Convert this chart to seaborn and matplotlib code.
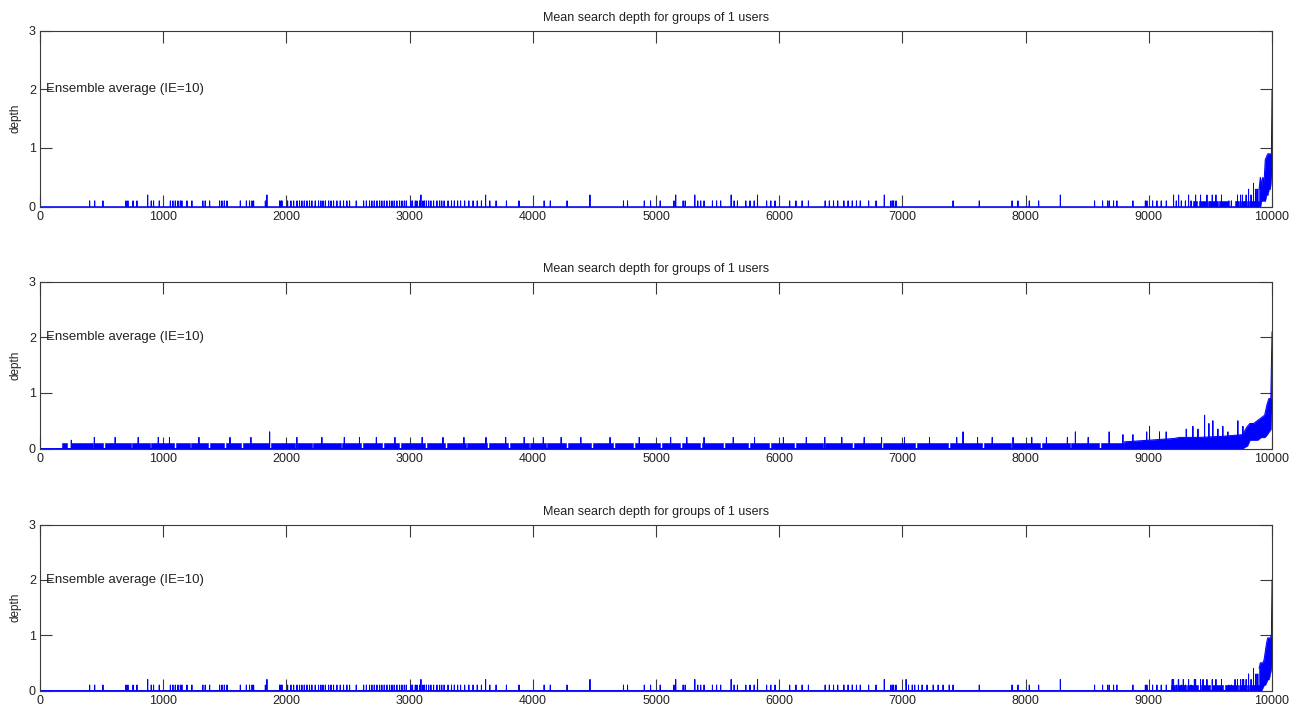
import numpy as np
import pandas as pd
import matplotlib
matplotlib.use('Agg')
import matplotlib.pyplot as plt
import seaborn as sns

sns.set_style('white')
plt.rcParams['font.family'] = ['Liberation Sans', 'DejaVu Sans']

# Configuration
N_STEPS = 10000
TITLE = 'Mean search depth for groups of 1 users'
NOTE = 'Ensemble average (IE=10)'
Y_LABEL = 'depth'
X_TICKS = [0, 1000, 2000, 3000, 4000, 5000, 6000, 7000, 8000, 9000, 10000]
Y_TICKS = [0, 1, 2, 3]
BLUE = '#0000ff'
AXIS_GREY = '#3a3a3a'

# ---- panel 1: isolated spikes (step, depth) ----
spikes1_x = [403, 444, 511, 698, 714, 755, 787, 874, 903, 922, 968, 1058, 1079, 1098, 1120,
             1139, 1152, 1193, 1233, 1322, 1341, 1377, 1458, 1477, 1496, 1518, 1626, 1675,
             1701, 1721, 1734, 1829, 1842, 1945, 1956, 1964,
             2010, 2037, 2059, 2086, 2107, 2126, 2145, 2167, 2188, 2207, 2234, 2261, 2280,
             2297, 2316, 2343, 2362, 2383, 2410, 2437, 2464, 2491, 2513, 2567, 2627, 2649,
             2675, 2694, 2713, 2735, 2757, 2775, 2794, 2816, 2838, 2857, 2875, 2897, 2919,
             2938, 2957, 2973, 3011, 3024, 3046, 3060, 3081, 3092, 3108, 3120, 3136, 3155,
             3173, 3195, 3222, 3244, 3261, 3280, 3312, 3340, 3363, 3390, 3414, 3447, 3481,
             3515, 3549, 3583, 3617, 3651, 3702, 3786, 3888, 4092, 4142, 4278, 4464, 4736,
             4769, 4905, 4956,
             5034, 5146, 5160, 5220, 5237, 5315, 5339, 5363, 5390, 5458, 5492, 5525, 5610,
             5634, 5661, 5729, 5763, 5797, 5824, 5898, 5932, 5966, 6085, 6136, 6186, 6237,
             6373, 6407, 6441, 6475, 6525, 6559, 6593, 6627, 6658, 6726, 6786, 6853, 6907,
             6921, 6929, 6948,
             7411, 7624, 7890, 7938, 8030, 8106, 8282, 8560, 8625, 8666, 8679, 8714, 8741,
             8871, 8972, 8985, 9031, 9066, 9101, 9142, 9201, 9223, 9242, 9264, 9297, 9323,
             9343,
             9380, 9420, 9472, 9515, 9545, 9590, 9650, 9670, 9720, 9745, 9760, 9790, 9810,
             9830, 9850, 9870, 9885]
spikes1_h = [0.1, 0.1, 0.1, 0.1, 0.1, 0.1, 0.1, 0.2, 0.1, 0.1, 0.1, 0.1, 0.1, 0.1, 0.1,
             0.1, 0.1, 0.1, 0.1, 0.1, 0.1, 0.1, 0.1, 0.1, 0.1, 0.1, 0.1, 0.1,
             0.1, 0.1, 0.1, 0.1, 0.2, 0.1, 0.1, 0.1,
             0.1, 0.1, 0.1, 0.1, 0.1, 0.1, 0.1, 0.1, 0.1, 0.1, 0.1, 0.1, 0.1,
             0.1, 0.1, 0.1, 0.1, 0.1, 0.1, 0.1, 0.1, 0.1, 0.1, 0.1, 0.1, 0.1,
             0.1, 0.1, 0.1, 0.1, 0.1, 0.1, 0.1, 0.1, 0.1, 0.1, 0.1, 0.1, 0.1,
             0.1, 0.1, 0.1, 0.1, 0.1, 0.1, 0.1, 0.1, 0.2, 0.1, 0.1, 0.1, 0.1,
             0.1, 0.1, 0.1, 0.1, 0.1, 0.1, 0.1, 0.1, 0.1, 0.1, 0.1, 0.1, 0.1,
             0.1, 0.1, 0.1, 0.2, 0.1, 0.1, 0.1, 0.1, 0.1, 0.1, 0.1, 0.2, 0.1,
             0.1, 0.1, 0.1,
             0.1, 0.1, 0.2, 0.1, 0.1, 0.2, 0.1, 0.1, 0.1, 0.1, 0.1, 0.1, 0.2,
             0.1, 0.1, 0.1, 0.1, 0.1, 0.2, 0.1, 0.1, 0.1, 0.1, 0.1, 0.1, 0.1,
             0.1, 0.1, 0.1, 0.1, 0.1, 0.1, 0.1, 0.1, 0.1, 0.1, 0.1, 0.2, 0.1,
             0.1, 0.1, 0.1,
             0.1, 0.1, 0.1, 0.1, 0.1, 0.1, 0.2, 0.1, 0.1, 0.1, 0.1, 0.1, 0.1,
             0.1, 0.1, 0.1, 0.1, 0.1, 0.1, 0.1, 0.2, 0.1, 0.2, 0.1, 0.1, 0.2,
             0.1,
             0.2, 0.2, 0.2, 0.2, 0.2, 0.2, 0.1, 0.1, 0.2, 0.2, 0.2, 0.2, 0.3,
             0.2, 0.4, 0.3, 0.3]
runs1_start = [9362, 9405, 9478, 9570, 9700, 9745, 9810]
runs1_end = [9395, 9470, 9560, 9640, 9730, 9800, 9900]
runs1_top = [0.1, 0.1, 0.1, 0.1, 0.1, 0.1, 0.1]
tail1_x = [9895, 9905, 9915, 9925, 9935, 9945, 9955, 9965, 9975, 9985, 9995, 10000]
tail1_lo = [0.0, 0.0, 0.1, 0.1, 0.1, 0.1, 0.2, 0.2, 0.3, 0.3, 0.5, 0.9]
tail1_hi = [0.3, 0.5, 0.35, 0.5, 0.4, 0.8, 0.85, 0.9, 0.9, 0.9, 0.9, 2.0]

# ---- panel 2: dense activity ----
spikes2_x = [254, 441, 610, 797, 960, 1051, 1290, 1542, 1712, 1864, 2085, 2288, 2470, 2593,
             2730, 2881, 3102, 3271, 3441, 3620, 3780, 3930, 4085, 4230, 4390, 4627, 4864,
             5119, 5250, 5390, 5627, 5800, 6034, 6220, 6370, 6508, 6690, 6831, 7017, 7220,
             7441, 7492, 7610, 7729, 7898, 8050, 8169, 8339, 8404, 8508, 8678, 8790, 8871,
             8983, 9006, 9087, 9141, 9304, 9358, 9399, 9453, 9488, 9520, 9561, 9601, 9642,
             9723, 9764]
spikes2_h = [0.15, 0.2, 0.2, 0.2, 0.2, 0.2, 0.2, 0.2, 0.2, 0.3, 0.2, 0.2, 0.2, 0.2,
             0.2, 0.2, 0.2, 0.2, 0.2, 0.2, 0.2, 0.2, 0.2, 0.2, 0.2, 0.2, 0.2,
             0.2, 0.2, 0.2, 0.2, 0.2, 0.2, 0.2, 0.2, 0.2, 0.2, 0.2, 0.2, 0.2,
             0.2, 0.3, 0.2, 0.2, 0.2, 0.2, 0.2, 0.2, 0.3, 0.2, 0.3, 0.25, 0.25,
             0.3, 0.4, 0.3, 0.3, 0.35, 0.4, 0.35, 0.6, 0.45, 0.5, 0.35, 0.4, 0.3,
             0.5, 0.4]
runs2_start = [175, 250, 441, 525, 745, 898, 1100, 1228, 1377, 1508, 1644, 1872, 2083, 2218,
               2455, 2618, 2795, 2930, 3138, 3303, 3468, 3642, 3818, 3981, 4117, 4286, 4490,
               4666, 4829, 5049, 5208, 5371, 5557, 5761, 5930, 6134, 6371, 6608, 6845, 7117,
               7388, 7659, 7896, 8134, 8371, 8608]
runs2_end = [222, 432, 515, 735, 890, 1085, 1215, 1360, 1495, 1630, 1855, 2070, 2205, 2440,
             2605, 2780, 2915, 3125, 3290, 3455, 3630, 3800, 3968, 4105, 4272, 4475, 4650,
             4815, 5035, 5192, 5355, 5545, 5745, 5915, 6120, 6357, 6593, 6830, 7103, 7372,
             7645, 7882, 8120, 8357, 8594, 8800]
runs2_top = [0.1] * len(runs2_start)
tail2_x = [8800, 9000, 9200, 9250, 9400, 9600, 9760, 9800, 9820, 9850, 9880, 9910, 9940,
           9960, 9975, 9990, 10000]
tail2_lo = [0.0, 0.0, 0.0, 0.0, 0.0, 0.0, 0.0, 0.05, 0.15, 0.15, 0.15, 0.2, 0.2,
            0.25, 0.3, 0.35, 0.9]
tail2_hi = [0.12, 0.15, 0.18, 0.2, 0.2, 0.22, 0.25, 0.4, 0.45, 0.45, 0.5, 0.55, 0.6,
            0.8, 0.9, 0.9, 2.1]

# ---- panel 3: close to panel 1, extra cluster near 7000-7400 ----
extra3_x = [7030, 7050, 7080, 7100, 7130, 7160, 7200, 7250, 7290, 7330, 7380,
            9190, 9240, 9280, 9370, 9440, 9700, 9770]
extra3_h = [0.2, 0.1, 0.1, 0.1, 0.1, 0.1, 0.1, 0.1, 0.1, 0.1, 0.1,
            0.2, 0.2, 0.2, 0.2, 0.2, 0.2, 0.2]
spikes3_x = spikes1_x + extra3_x
spikes3_h = spikes1_h + extra3_h
runs3_start = [9180, 9230, 9310, 9420, 9510, 9620, 9730, 9810]
runs3_end = [9215, 9300, 9400, 9500, 9600, 9720, 9800, 9900]
runs3_top = [0.1, 0.1, 0.1, 0.1, 0.1, 0.1, 0.1, 0.1]
tail3_x = [9895, 9905, 9915, 9925, 9935, 9945, 9955, 9965, 9975, 9985, 9995, 10000]
tail3_lo = [0.0, 0.0, 0.0, 0.05, 0.1, 0.1, 0.15, 0.2, 0.2, 0.3, 0.4, 0.9]
tail3_hi = [0.4, 0.5, 0.5, 0.5, 0.55, 0.7, 0.85, 0.95, 0.95, 0.95, 1.0, 2.0]

PANELS = [
    (spikes1_x, spikes1_h, runs1_start, runs1_end, runs1_top, tail1_x, tail1_lo, tail1_hi),
    (spikes2_x, spikes2_h, runs2_start, runs2_end, runs2_top, tail2_x, tail2_lo, tail2_hi),
    (spikes3_x, spikes3_h, runs3_start, runs3_end, runs3_top, tail3_x, tail3_lo, tail3_hi),
]

# axes boxes in figure pixels: (top, bottom)
W, H = 1302, 710
LEFT, RIGHT = 40, 1272
BOXES = [(30.5, 206.7), (281.8, 448.5), (524.5, 690.5)]


def spike_frame(xs, hs, end):
    px, py = [0], [0.0]
    for p, h in sorted(zip(xs, hs)):
        px += [p - 1, p, p + 1]
        py += [0.0, h, 0.0]
    px.append(end)
    py.append(0.0)
    return pd.DataFrame({'step': px, 'depth': py})


def draw_panel(ax, spk_x, spk_h, r_s, r_e, r_t, t_x, t_lo, t_hi):
    for s, e, t in zip(r_s, r_e, r_t):
        ax.fill_between([s, e], [0, 0], [t, t], color=BLUE, lw=0.4, zorder=1)
    ax.fill_between(t_x, t_lo, t_hi, color=BLUE, lw=0.4, zorder=1)
    df = spike_frame(spk_x, spk_h, t_x[0])
    sns.lineplot(data=df, x='step', y='depth', ax=ax, color=BLUE, lw=0.7,
                 estimator=None, sort=False)
    tail = pd.DataFrame({'step': t_x, 'depth': t_hi})
    sns.lineplot(data=tail, x='step', y='depth', ax=ax, color=BLUE, lw=0.7,
                 estimator=None, sort=False)

    ax.set_xlim(0, N_STEPS)
    ax.set_ylim(0, 3)
    ax.set_xticks(X_TICKS)
    ax.set_yticks(Y_TICKS)
    ax.set_xticklabels([str(t) for t in X_TICKS])
    ax.set_yticklabels([str(t) for t in Y_TICKS])
    ax.tick_params(direction='in', length=8.5, width=0.8, color=AXIS_GREY,
                   bottom=True, left=True, top=True, right=True,
                   labelsize=9, pad=3, labelcolor='#222222')
    for sp in ax.spines.values():
        sp.set_color(AXIS_GREY)
        sp.set_linewidth(0.8)
        sp.set_visible(True)
    ax.set_xlabel('')
    ax.set_ylabel(Y_LABEL, fontsize=8.5, labelpad=5, color='#222222')
    ax.set_title(TITLE, fontsize=9, pad=7, color='#222222')
    ax.text(45, 2, NOTE, fontsize=9.5, ha='left', va='center', color='#222222')


fig = plt.figure(figsize=(W / 100, H / 100), dpi=100)
for (top, bottom), data in zip(BOXES, PANELS):
    ax = fig.add_axes([LEFT / W, 1 - bottom / H, (RIGHT - LEFT) / W, (bottom - top) / H])
    draw_panel(ax, *data)

fig.savefig('out.png', dpi=100, facecolor='white')
